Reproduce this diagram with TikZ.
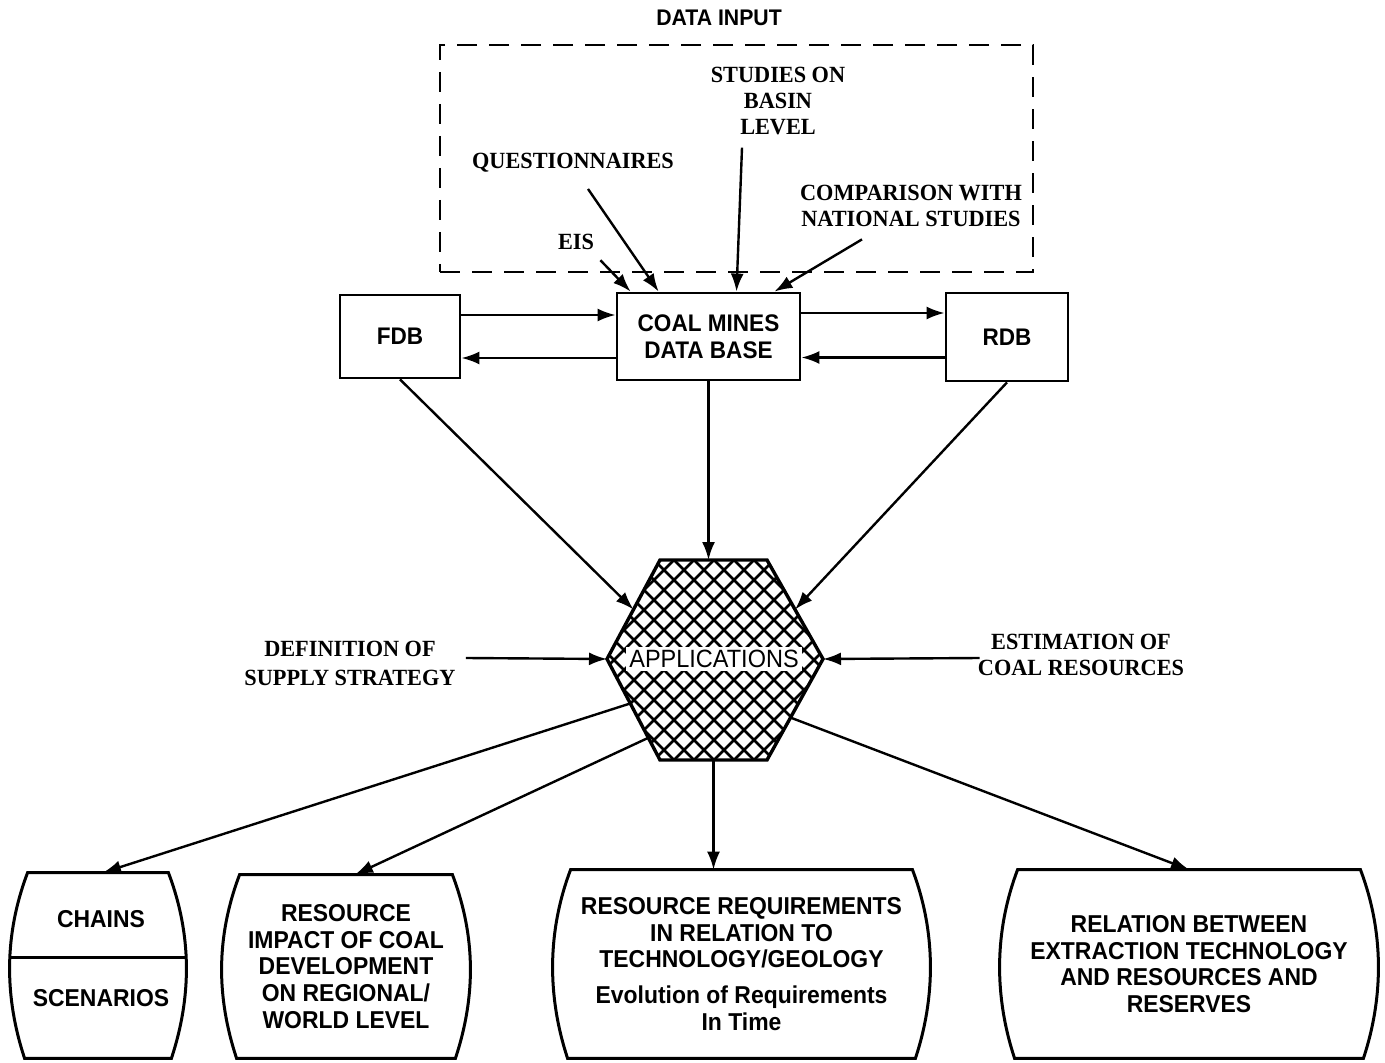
\documentclass[tikz,border=0pt]{standalone}
\usepackage{fontspec}
\setmainfont{Liberation Serif}
\newfontfamily\cond[FakeStretch=0.94]{Liberation Sans}
\newfontfamily\serc[FakeStretch=0.96]{Liberation Serif}
\usetikzlibrary{arrows.meta,calc}
\newcommand{\barrelbox}[1]{%
  \draw[boxline] ($(#1.north west)+(18,0)$) -- ($(#1.north east)+(-18,0)$)
    .. controls ($(#1.north east)+(5.5,62)$) and ($(#1.south east)+(5.5,-62)$) .. ($(#1.south east)+(-15,0)$)
    -- ($(#1.south west)+(15,0)$)
    .. controls ($(#1.south west)+(-5.5,-62)$) and ($(#1.north west)+(-5.5,62)$) .. cycle;}
\tikzset{
  arr/.style={line width=1.2pt,-{Latex[length=9pt,width=6.5pt]}},
  boxline/.style={line width=1.5pt},
  sbox/.style={draw,line width=1.4pt,inner sep=0pt,align=center,font=\cond\bfseries\fontsize{12}{13.3}\selectfont},
  btext/.style={inner sep=0pt,align=center,font=\cond\bfseries\fontsize{12.2}{13.3}\selectfont},
  stext/.style={inner sep=1pt,align=center,font=\serc\bfseries\fontsize{11.6}{13.2}\selectfont},
}
\begin{document}
\begin{tikzpicture}[x=0.5pt,y=-0.5pt]
\useasboundingbox (0,0) rectangle (1385,1063);

% data input
\node[font=\cond\bfseries\fontsize{11.3}{13}\selectfont] (title) at (719,18) {DATA INPUT};
\node[draw,dash pattern=on 10pt off 6pt,line width=1.4pt,minimum width=296.5pt,minimum height=113.5pt,inner sep=0pt] (input) at (736.5,158.5) {};
\node[stext] (studies) at (778,101) {STUDIES ON\\BASIN\\LEVEL};
\node[stext] (quest) at (573,163) {QUESTIONNAIRES};
\node[stext] (comp) at (911,206) {COMPARISON WITH\\NATIONAL STUDIES};
\node[stext] (eis) at (576,242) {EIS};

% data bases
\node[sbox,minimum width=91.5pt,minimum height=43.5pt] (cm) at (708.5,336.5) {COAL MINES\\DATA BASE};
\node[sbox,minimum width=60pt,minimum height=41.5pt] (fdb) at (400,336.5) {FDB};
\node[sbox,minimum width=61pt,minimum height=44pt] (rdb) at (1007,337) {RDB};

% input arrows
\draw[arr] ([shift={(2pt,-4pt)}]eis.south east) -- ([xshift=7.5pt]cm.north west);
\draw[arr] ([shift={(7.5pt,-7pt)}]quest.south) -- ([xshift=21.5pt]cm.north west);
\draw[arr] ([shift={(-18pt,-5pt)}]studies.south) -- ([xshift=14pt]cm.north);
\draw[arr] ([shift={(-24.5pt,-5pt)}]comp.south) -- ([xshift=-13.5pt]cm.north east);

% data base exchange
\draw[arr] ([yshift=10.75pt]fdb.east) -- ([yshift=10.75pt]fdb.east -| cm.west);
\draw[arr] ([yshift=-10.75pt]cm.west) -- ([yshift=-10.75pt]cm.west -| fdb.east);
\draw[arr] ([yshift=11.75pt]cm.east) -- ([yshift=11.75pt]cm.east -| rdb.west);
\draw[arr] ([yshift=-10.25pt]rdb.west) -- ([yshift=-10.25pt]rdb.west -| cm.east);

% hexagon
\coordinate (h1) at (660,560);
\coordinate (h2) at (767,560);
\coordinate (h3) at (823,659);
\coordinate (h4) at (767,760);
\coordinate (h5) at (660,760);
\coordinate (h6) at (607,659);
\begin{scope}
  \clip (h1)--(h2)--(h3)--(h4)--(h5)--(h6)--cycle;
  \begin{scope}[shift={(714,660)}]
    \foreach \c in {-340,-320,...,340} {
      \draw[line width=1.3pt] (\c-130,-130) -- (\c+130,130);
      \draw[line width=1.3pt] (\c-130,130) -- (\c+130,-130);
    }
  \end{scope}
\end{scope}
\draw[line width=1.7pt,line join=miter] (h1)--(h2)--(h3)--(h4)--(h5)--(h6)--cycle;
\node[fill=white,inner sep=1.5pt,font=\cond\fontsize{12.5}{14}\selectfont] (app) at (714,659) {APPLICATIONS};
\coordinate (ht) at ($(h1)!0.5!(h2)$);
\coordinate (hb) at ($(h4)!0.5!(h5)$);

% arrows into applications
\draw[arr] (fdb.south) -- ($(h6)!0.5!(h1)$);
\draw[arr] (cm.south) -- (cm.south |- ht);
\draw[arr] (rdb.south) -- ($(h2)!0.5!(h3)$);

\node[stext,font=\serc\bfseries\fontsize{11.6}{14.5}\selectfont] (def) at (350,663) {DEFINITION OF\\SUPPLY STRATEGY};
\node[stext] (est) at (1081,655) {ESTIMATION OF\\COAL RESOURCES};
\draw[arr] ([shift={(4pt,2.5pt)}]def.east) -- (h6);
\draw[arr] ([shift={(2pt,-1.5pt)}]est.west) -- (h3);

% outputs
\node[btext,minimum width=88pt,minimum height=92.5pt] (b1) at (98,965.5) {};
\node[btext] (chains) at (101,919) {CHAINS};
\node[btext] (scen) at (101,998) {SCENARIOS};
\node[btext,minimum width=124pt,minimum height=91.5pt] (b2) at (346,966.5) {RESOURCE\\IMPACT OF COAL\\DEVELOPMENT\\ON REGIONAL/\\WORLD LEVEL};
\node[btext,minimum width=188.5pt,minimum height=94pt] (b3) at (741.5,964) {RESOURCE REQUIREMENTS\\IN RELATION TO\\TECHNOLOGY/GEOLOGY\\[4.5pt]Evolution of Requirements\\In Time};
\node[btext,minimum width=189pt,minimum height=94pt] (b4) at (1189,964) {RELATION BETWEEN\\EXTRACTION TECHNOLOGY\\AND RESOURCES AND\\RESERVES};
\barrelbox{b1}
\barrelbox{b2}
\barrelbox{b3}
\barrelbox{b4}
\draw[boxline] ($(b1.west)+(1,-8)$) -- ($(b1.east)+(-1,-8)$);

\draw[arr] ($(h6)!0.44!(h5)$) -- ([xshift=2.5pt]b1.north);
\draw[arr] ($(h6)!0.78!(h5)$) -- ([xshift=4.5pt]b2.north);
\draw[arr] (hb) -- (hb |- b3.north);
\draw[arr] ($(h3)!0.58!(h4)$) -- (b4.north);
\end{tikzpicture}
\end{document}
